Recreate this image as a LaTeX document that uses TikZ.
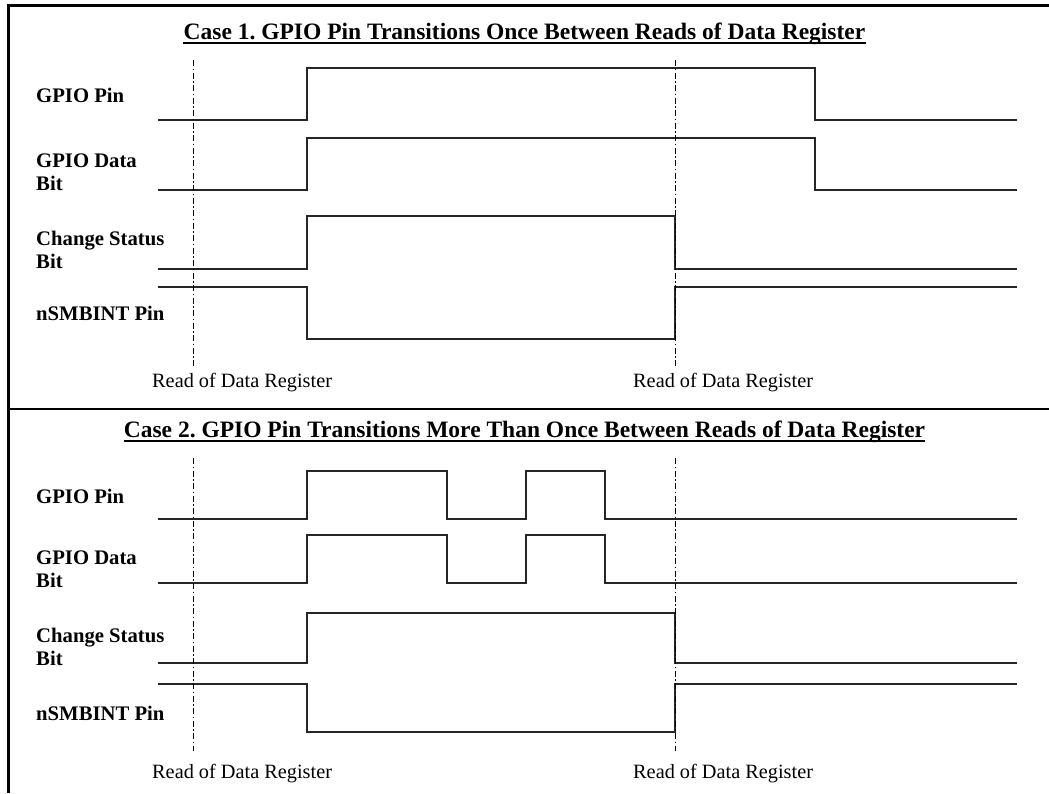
\documentclass[tikz,border=0pt]{standalone}
\usepackage{fontspec}
\setmainfont{Liberation Serif}
\frenchspacing
\begin{document}
\begin{tikzpicture}[x=1pt,y=-1pt,
  sig/.style={line width=1.4pt, black!85, line join=miter},
  rdline/.style={line width=0.9pt, black, dash pattern=on 6pt off 2.5pt on 1.5pt off 2.5pt},
  lbl/.style={font=\fontsize{20.7}{24}\selectfont\bfseries, anchor=base west, inner sep=0pt},
  rdtxt/.style={font=\fontsize{20.3}{24}\selectfont, anchor=base west, inner sep=0pt},
  ttl/.style={font=\fontsize{23.5}{28}\selectfont\bfseries\frenchspacing, anchor=base, inner sep=0pt},
  uline/.style={line width=2.6pt}]
\useasboundingbox (0,0) rectangle (1049,793);
% frame
\draw[line width=3pt] (1049,5) -- (8,5) -- (8,793);
\draw[line width=1.5pt] (8,409) -- (1049,409);

% ===== Case 1 =====
\node[ttl] (t1) at (524.5,39) {Case 1. GPIO Pin Transitions Once Between Reads of Data Register};
\draw[uline] ([yshift=-4pt]t1.base west) -- ([yshift=-4pt]t1.base east);

\node[lbl] (a1) at (36,102) {GPIO Pin};
\node[lbl] (b1) at (36,167) {GPIO Data};
\node[lbl] (b1b) at (36,190) {Bit};
\node[lbl] (c1) at (36,245) {Change Status};
\node[lbl] (c1b) at (36,268) {Bit};
\node[lbl] (d1) at (36,320) {nSMBINT Pin};

\draw[sig] (158,120) -- (307,120) -- (307,68) -- (815,68) -- (815,120) -- (1017,120);
\draw[sig] (158,190) -- (307,190) -- (307,138) -- (815,138) -- (815,190) -- (1017,190);
\draw[sig] (158,269) -- (307,269) -- (307,216) -- (675,216) -- (675,269) -- (1017,269);
\draw[sig] (158,287) -- (307,287) -- (307,339) -- (675,339) -- (675,287) -- (1017,287);

\draw[rdline] (193,60) -- (193,366);
\draw[rdline] (675,60) -- (675,366);
\node[rdtxt] (r1a) at (152,387) {Read of Data Register};
\node[rdtxt] (r1b) at (633,387) {Read of Data Register};

% ===== Case 2 =====
\node[ttl] (t2) at (524.5,437) {Case 2. GPIO Pin Transitions More Than Once Between Reads of Data Register};
\draw[uline] ([yshift=-4pt]t2.base west) -- ([yshift=-4pt]t2.base east);

\node[lbl] (a2) at (36,503) {GPIO Pin};
\node[lbl] (b2) at (36,564) {GPIO Data};
\node[lbl] (b2b) at (36,587) {Bit};
\node[lbl] (c2) at (36,642) {Change Status};
\node[lbl] (c2b) at (36,665) {Bit};
\node[lbl] (d2) at (36,720) {nSMBINT Pin};

\draw[sig] (158,519) -- (307,519) -- (307,471) -- (447,471) -- (447,519) -- (526,519) -- (526,471) -- (605,471) -- (605,519) -- (1017,519);
\draw[sig] (158,583) -- (307,583) -- (307,535) -- (447,535) -- (447,583) -- (526,583) -- (526,535) -- (605,535) -- (605,583) -- (1017,583);
\draw[sig] (158,663) -- (307,663) -- (307,613) -- (675,613) -- (675,663) -- (1017,663);
\draw[sig] (158,684) -- (307,684) -- (307,732) -- (675,732) -- (675,684) -- (1017,684);

\draw[rdline] (193,458) -- (193,751);
\draw[rdline] (675,458) -- (675,751);
\node[rdtxt] (r2a) at (152,778) {Read of Data Register};
\node[rdtxt] (r2b) at (633,778) {Read of Data Register};
\end{tikzpicture}
\end{document}
